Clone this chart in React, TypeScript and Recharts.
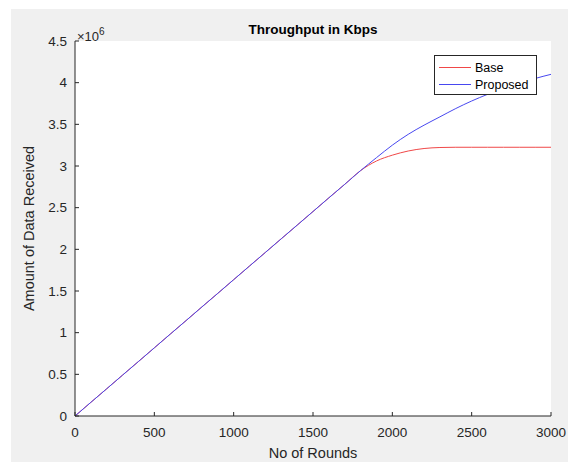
import React from 'react'
import {
  LineChart,
  Line,
  XAxis,
  YAxis,
  ReferenceArea,
} from 'recharts'

// rounds sampled every 100
const rounds = [
  0, 100, 200, 300, 400, 500, 600, 700, 800, 900, 1000, 1100, 1200, 1300, 1400, 1500,
  1600, 1700, 1800, 1900, 2000, 2100, 2200, 2300, 2400, 2500, 2600, 2700, 2800, 2900, 3000,
]

// amount of data received (x10^6)
const baseValues = [
  0, 0.164, 0.327, 0.491, 0.654, 0.818, 0.982, 1.145, 1.309, 1.472, 1.636, 1.8, 1.963, 2.127,
  2.29, 2.454, 2.618, 2.78, 2.945, 3.06, 3.13, 3.18, 3.21, 3.222, 3.225, 3.225, 3.225, 3.225,
  3.225, 3.225, 3.225,
]

const proposedValues = [
  0, 0.164, 0.327, 0.491, 0.654, 0.818, 0.982, 1.145, 1.309, 1.472, 1.636, 1.8, 1.963, 2.127,
  2.29, 2.454, 2.618, 2.78, 2.945, 3.1, 3.25, 3.38, 3.49, 3.59, 3.69, 3.78, 3.86, 3.93, 3.99,
  4.05, 4.1,
]

const xTicks = [0, 500, 1000, 1500, 2000, 2500, 3000]
const yTicks = [0, 0.5, 1, 1.5, 2, 2.5, 3, 3.5, 4, 4.5]

const data = rounds.map((r, i) => ({
  round: r,
  base: baseValues[i] * 1e6,
  proposed: proposedValues[i] * 1e6,
}))

const FONT = '"Liberation Sans", Arial, sans-serif'
const AXIS = '#262626'
const RED = '#f04848'
const BLUE = '#4848f0'

const legendItems = [
  { label: 'Base', color: RED },
  { label: 'Proposed', color: BLUE },
]

function LegendBox() {
  return (
    <div
      style={{
        position: 'absolute',
        left: 423,
        top: 46,
        width: 103,
        height: 40,
        background: '#fff',
        border: `1px solid ${AXIS}`,
        fontSize: 12.5,
        color: '#000',
        boxSizing: 'border-box',
        paddingTop: 3,
      }}
    >
      {legendItems.map((d) => (
        <div key={d.label} style={{ display: 'flex', alignItems: 'center', height: 17 }}>
          <span
            style={{ display: 'inline-block', width: 32, height: 1, background: d.color, marginLeft: 4, marginRight: 4 }}
          />
          {d.label}
        </div>
      ))}
    </div>
  )
}

export default function App() {
  return (
    <div
      style={{
        position: 'absolute',
        left: 11,
        top: 9,
        width: 557,
        height: 453,
        background: '#f0f0f0',
        fontFamily: FONT,
      }}
    >
      <div
        style={{
          position: 'absolute',
          left: 64,
          width: 476,
          top: 13,
          textAlign: 'center',
          fontWeight: 700,
          fontSize: 13.5,
          color: '#000',
        }}
      >
        Throughput in Kbps
      </div>
      <div style={{ position: 'absolute', left: 66, top: 15, fontSize: 13, color: AXIS, lineHeight: '16px' }}>
        ×10<sup style={{ fontSize: 10, verticalAlign: 6 }}>6</sup>
      </div>
      <LineChart
        width={557}
        height={453}
        data={data}
        margin={{ top: 32, right: 17, bottom: 0, left: 0 }}
      >
        <ReferenceArea x1={0} x2={3000} y1={0} y2={4.5e6} fill="#fff" fillOpacity={1} stroke="none" />
        <XAxis
          type="number"
          dataKey="round"
          domain={[0, 3000]}
          ticks={xTicks}
          height={46}
          tickSize={-4}
          tickMargin={15}
          stroke={AXIS}
          tick={{ fill: AXIS, fontSize: 13.5, fontFamily: FONT }}
          label={{ value: 'No of Rounds', position: 'insideBottom', offset: 4, fill: AXIS, fontSize: 14.5, fontFamily: FONT }}
        />
        <YAxis
          type="number"
          domain={[0, 4.5e6]}
          ticks={yTicks.map((t) => t * 1e6)}
          width={64}
          tickSize={-4}
          tickMargin={12}
          stroke={AXIS}
          tickFormatter={(v) => String(v / 1e6)}
          tick={{ fill: AXIS, fontSize: 13.5, fontFamily: FONT }}
          label={{
            value: 'Amount of Data Received',
            angle: -90,
            position: 'insideLeft',
            offset: 18,
            style: { textAnchor: 'middle' },
            fill: AXIS,
            fontSize: 14.5,
            fontFamily: FONT,
          }}
        />
        <Line
          type="monotone"
          dataKey="base"
          stroke={RED}
          strokeWidth={1}
          dot={false}
          isAnimationActive={false}
        />
        <Line
          type="monotone"
          dataKey="proposed"
          stroke={BLUE}
          strokeWidth={1}
          dot={false}
          isAnimationActive={false}
        />
      </LineChart>
      <LegendBox />
    </div>
  )
}
